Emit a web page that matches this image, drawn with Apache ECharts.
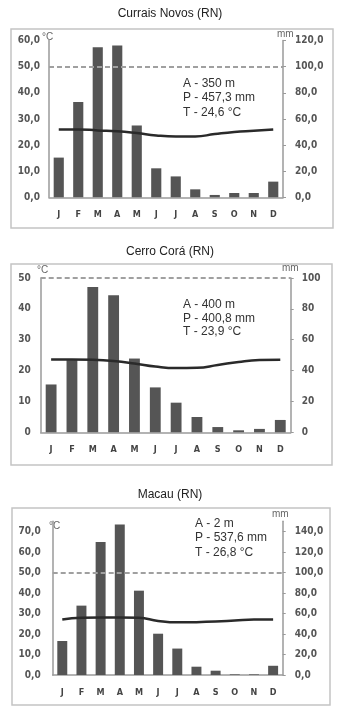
<!DOCTYPE html>
<html><head><meta charset="utf-8">
<script src="https://cdn.jsdelivr.net/npm/echarts@6/dist/echarts.min.js"></script>
<style>html,body{margin:0;padding:0;background:#fff}#c{width:340px;height:712px}</style>
</head><body><div id="c"></div>
<script>
const months = ['J','F','M','A','M','J','J','A','S','O','N','D'];
const titles = ['Currais Novos (RN)','Cerro Corá (RN)','Macau (RN)'];
const infoCurrais = ['A - 350 m','P - 457,3 mm','T - 24,6 °C'];
const infoCerro = ['A - 400 m','P - 400,8 mm','T - 23,9 °C'];
const infoMacau = ['A - 2 m','P - 537,6 mm','T - 26,8 °C'];
const precCurrais = [30.4,73,115,116.3,55,22.2,16,6.1,1.8,3.3,3.3,12];
const tempCurrais = [26.0,26.0,25.6,25.3,24.6,23.7,23.3,23.3,24.2,25.0,25.5,26.0];
const precCerro = [31,46.8,94.2,88.8,47.8,29.1,19.2,9.9,3.4,1.3,2.2,8];
const tempCerro = [23.6,23.6,23.5,23.1,22.3,21.3,20.8,20.9,21.8,22.8,23.4,23.5];
const precMacau = [33.2,67.7,129.7,146.8,82.3,40.3,25.8,8.1,4.2,0.6,0.6,9];
const tempMacau = [27.1,27.9,28.1,28.1,27.9,26.4,25.7,25.8,26.1,26.6,27.1,27.1];
const tempTicks1 = [0,10,20,30,40,50,60];
const precTicks1 = [0,20,40,60,80,100,120];
const tempTicks2 = [0,10,20,30,40,50];
const precTicks2 = [0,20,40,60,80,100];
const tempTicks3 = [0,10,20,30,40,50,60,70];
const precTicks3 = [0,20,40,60,80,100,120,140];

const narrow = '"Liberation Sans Narrow","DejaVu Sans Condensed",sans-serif';
const sans = '"Liberation Sans",Arial,sans-serif';
const axisCol = '#9a9a9a';
const labCol = '#555';
const comma = v => v.toFixed(1).replace('.', ',');
const intf = v => String(v);

const cfg = [
  {grid:{left:49,right:57,top:40.6,height:156.7}, tmax:60, tTicks:tempTicks1, pTicks:precTicks1, fmt:comma, lm:9, rm:12,
   prec:precCurrais, temp:tempCurrais},
  {grid:{left:40.7,right:49.3,top:278,height:154.3}, tmax:50, tTicks:tempTicks2, pTicks:precTicks2, fmt:intf, lm:10, rm:11,
   prec:precCerro, temp:tempCerro},
  {grid:{left:52.7,right:57.3,top:521.3,height:153.7}, tmax:75, tTicks:tempTicks3, pTicks:precTicks3, fmt:comma, lm:12, rm:12,
   prec:precMacau, temp:tempMacau}
];

const grid=[], xAxis=[], yAxis=[], series=[];
cfg.forEach((c,i)=>{
  grid.push(c.grid);
  xAxis.push({type:'category', gridIndex:i, data:months,
    axisLine:{lineStyle:{color:axisCol,width:1.5}}, axisTick:{show:false},
    axisLabel:{color:'#444', fontFamily:narrow, fontWeight:'bold', fontSize:9, margin:13}});
  yAxis.push({type:'value', gridIndex:i, position:'left', min:0, max:c.tmax,
    axisLine:{show:true, lineStyle:{color:axisCol,width:1.5}}, axisTick:{show:false}, splitLine:{show:false},
    axisLabel:{color:labCol, fontFamily:narrow, fontWeight:'bold', fontSize:10, margin:c.lm,
      customValues:c.tTicks, formatter:c.fmt}});
  yAxis.push({type:'value', gridIndex:i, position:'right', min:0, max:c.tmax*2,
    axisLine:{show:true, lineStyle:{color:axisCol,width:1.5}},
    axisTick:{show:true, inside:false, length:3, customValues:c.pTicks, lineStyle:{color:axisCol}}, splitLine:{show:false},
    axisLabel:{color:labCol, fontFamily:narrow, fontWeight:'bold', fontSize:10, margin:c.rm,
      customValues:c.pTicks, formatter:c.fmt}});
  series.push({type:'bar', xAxisIndex:i, yAxisIndex:2*i+1, data:c.prec, barWidth:'52%',
    itemStyle:{color:'#555'}, silent:true});
  series.push({type:'line', xAxisIndex:i, yAxisIndex:2*i, data:c.temp, smooth:true, symbol:'none',
    lineStyle:{color:'#2a2a2a', width:2.5}, silent:true, z:5,
    markLine:{silent:true, symbol:'none', label:{show:false},
      lineStyle:{color:'#a0a0a0', type:[5,3], width:2}, data:[{yAxis:50}]}});
});

const graphic = [];
const frames = [{x:11,y:29,w:322,h:199},{x:11,y:264,w:321,h:201},{x:12,y:508,w:318,h:197}];
frames.forEach(f=>graphic.push({type:'rect', shape:{x:f.x,y:f.y,width:f.w,height:f.h},
  style:{fill:'none', stroke:'#c4c4c4', lineWidth:1.5}, z:0}));
const titleY = [14,252,495];
titles.forEach((t,i)=>graphic.push({type:'text', x:170, y:titleY[i],
  style:{text:t, fill:'#222', font:'12px '+sans, textAlign:'center', textVerticalAlign:'middle'}}));
const infos = [[infoCurrais,183,83.3,14.7],[infoCerro,183,305,13.3],[infoMacau,195,523.3,14.7]];
infos.forEach(([arr,x,y,dy])=>arr.forEach((t,k)=>graphic.push({type:'text', x:x, y:y+k*dy,
  style:{text:t, fill:'#333', font:'12px '+sans, textAlign:'left', textVerticalAlign:'middle'}})));
const units = [['°C',42,37],['mm',277,34],['°C',37,270],['mm',282,268],['°C',49,526],['mm',272,514]];
units.forEach(([t,x,y])=>graphic.push({type:'text', x:x, y:y,
  style:{text:t, fill:'#666', font:'10px '+sans, textAlign:'left', textVerticalAlign:'middle'}}));

const chart = echarts.init(document.getElementById('c'), null, {renderer:'canvas'});
chart.setOption({animation:false, backgroundColor:'#fff', grid, xAxis, yAxis, series, graphic});
</script>
</body></html>
